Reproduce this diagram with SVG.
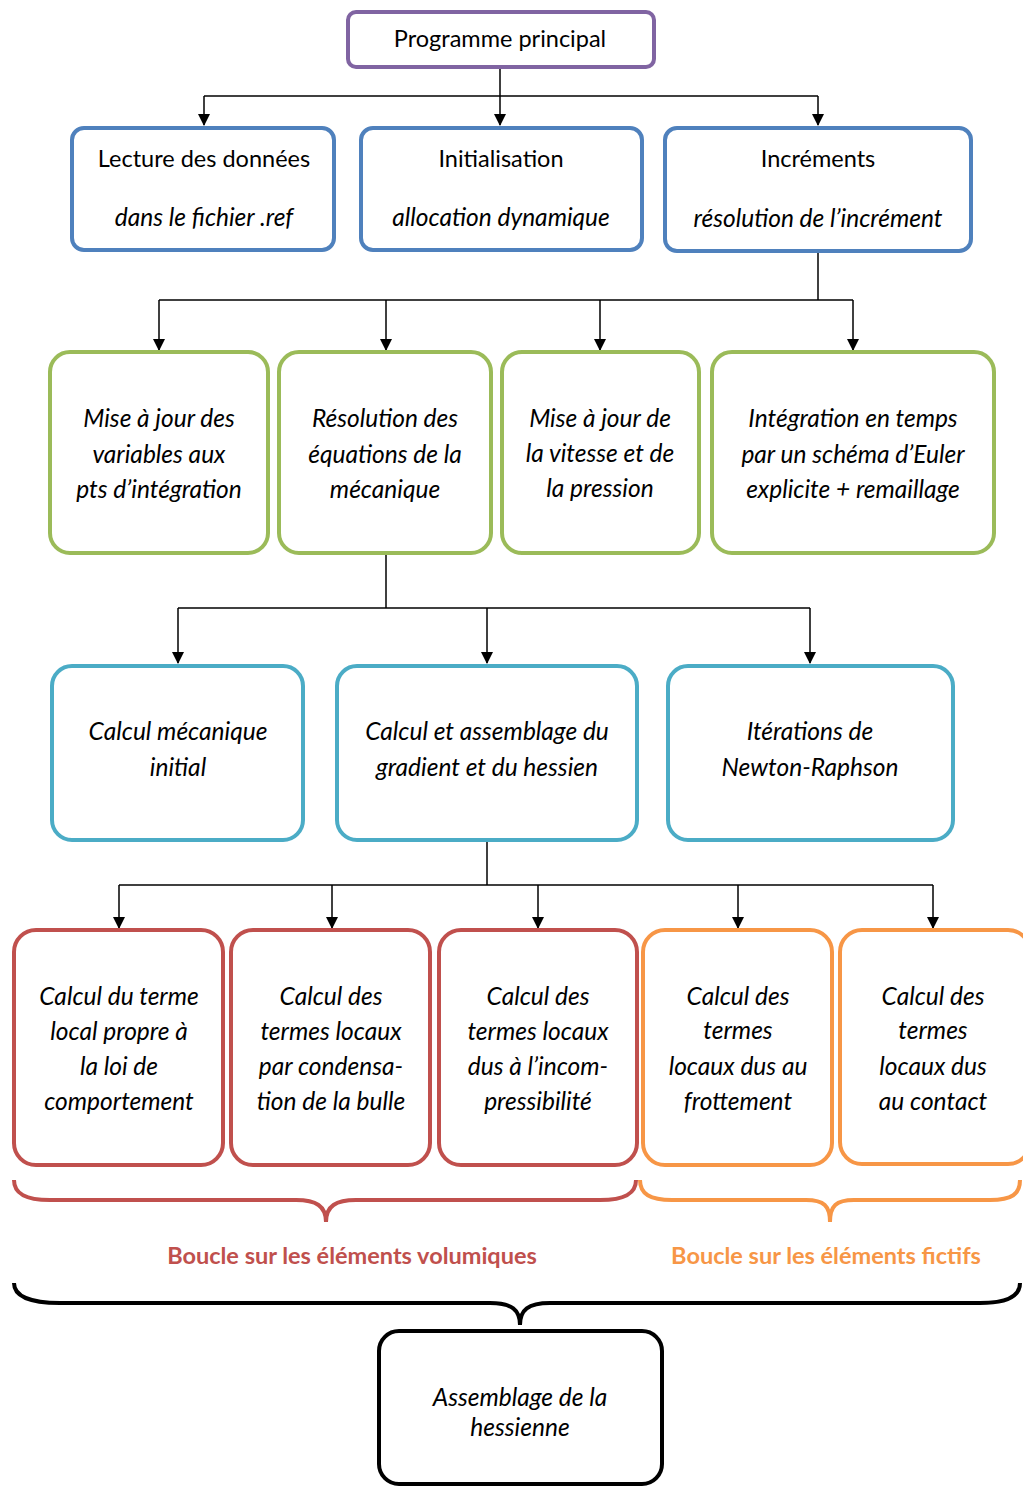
<svg xmlns="http://www.w3.org/2000/svg" width="1023" height="1486" viewBox="0 0 1023 1486">
<defs>
<marker id="arr" markerWidth="12" markerHeight="12" refX="11" refY="6" orient="auto" markerUnits="userSpaceOnUse" viewBox="0 0 12 12">
<path d="M0,0 L12,6 L0,12 Z" fill="#000"/>
</marker>
<style>
.box{fill:#fff;stroke-width:4}
.pur{stroke:#8064A2}
.blu{stroke:#4F81BD}
.grn{stroke:#9BBB59}
.tea{stroke:#4BACC6}
.red{stroke:#C0504D}
.ora{stroke:#F79646}
.blk{stroke:#000}
text{font-family:Lato,"Open Sans","Liberation Sans",sans-serif;font-size:23.5px;fill:#000;text-anchor:middle}
.it{font-style:italic;font-size:24.5px}
.lbl{font-weight:bold;font-size:23.5px}
.con{stroke:#000;stroke-width:1.5;fill:none}
.brace{fill:none;stroke-width:4}
</style>
</defs>
<rect width="1023" height="1486" fill="#fff"/>
<g id="connectors">
<path class="con" d="M500,67 V125" marker-end="url(#arr)"/>
<path class="con" d="M204,96 H818"/>
<path class="con" d="M204,96 V125" marker-end="url(#arr)"/>
<path class="con" d="M818,96 V125" marker-end="url(#arr)"/>
<path class="con" d="M818,252 V300"/>
<path class="con" d="M159,300 H853"/>
<path class="con" d="M159,300 V350" marker-end="url(#arr)"/>
<path class="con" d="M386,300 V350" marker-end="url(#arr)"/>
<path class="con" d="M600,300 V350" marker-end="url(#arr)"/>
<path class="con" d="M853,300 V350" marker-end="url(#arr)"/>
<path class="con" d="M386,553 V608"/>
<path class="con" d="M178,608 H810"/>
<path class="con" d="M178,608 V663" marker-end="url(#arr)"/>
<path class="con" d="M487,608 V663" marker-end="url(#arr)"/>
<path class="con" d="M810,608 V663" marker-end="url(#arr)"/>
<path class="con" d="M487,840 V885"/>
<path class="con" d="M119,885 H933"/>
<path class="con" d="M119,885 V928" marker-end="url(#arr)"/>
<path class="con" d="M332,885 V928" marker-end="url(#arr)"/>
<path class="con" d="M538,885 V928" marker-end="url(#arr)"/>
<path class="con" d="M738,885 V928" marker-end="url(#arr)"/>
<path class="con" d="M933,885 V928" marker-end="url(#arr)"/>
</g>
<g id="n-programme"><rect class="box pur" x="348" y="12" width="306" height="55" rx="8"/><text x="500" y="47">Programme principal</text></g>
<g id="n-lecture"><rect class="box blu" x="72" y="128" width="262" height="122" rx="12"/><text x="204" y="167">Lecture des données</text><text class="it" x="204" y="226">dans le fichier .ref</text></g>
<g id="n-init"><rect class="box blu" x="361" y="128" width="281" height="122" rx="12"/><text x="501" y="167">Initialisation</text><text class="it" x="501" y="226">allocation dynamique</text></g>
<g id="n-incr"><rect class="box blu" x="665" y="128" width="306" height="123" rx="12"/><text x="818" y="167">Incréments</text><text class="it" x="818" y="227">résolution de l’incrément</text></g>
<g id="n-maj-var"><rect class="box grn" x="50" y="352" width="218" height="201" rx="20"/><text class="it" x="159" y="427">Mise à jour des</text><text class="it" x="159" y="463">variables aux</text><text class="it" x="159" y="498">pts d’intégration</text></g>
<g id="n-resol"><rect class="box grn" x="279" y="352" width="212" height="201" rx="20"/><text class="it" x="385" y="427">Résolution des</text><text class="it" x="385" y="463">équations de la</text><text class="it" x="385" y="498">mécanique</text></g>
<g id="n-maj-vit"><rect class="box grn" x="502" y="352" width="197" height="201" rx="20"/><text class="it" x="600" y="427">Mise à jour de</text><text class="it" x="600" y="462">la vitesse et de</text><text class="it" x="600" y="497">la pression</text></g>
<g id="n-integ"><rect class="box grn" x="712" y="352" width="282" height="201" rx="20"/><text class="it" x="853" y="427">Intégration en temps</text><text class="it" x="853" y="463">par un schéma d’Euler</text><text class="it" x="853" y="498">explicite + remaillage</text></g>
<g id="n-calc-init"><rect class="box tea" x="52" y="666" width="251" height="174" rx="20"/><text class="it" x="178" y="740">Calcul mécanique</text><text class="it" x="178" y="776">initial</text></g>
<g id="n-calc-ass"><rect class="box tea" x="337" y="666" width="300" height="174" rx="20"/><text class="it" x="487" y="740">Calcul et assemblage du</text><text class="it" x="487" y="776">gradient et du hessien</text></g>
<g id="n-newton"><rect class="box tea" x="668" y="666" width="285" height="174" rx="20"/><text class="it" x="810" y="740">Itérations de</text><text class="it" x="810" y="776">Newton-Raphson</text></g>
<g id="n-loi"><rect class="box red" x="14" y="930" width="209" height="235" rx="22"/><text class="it" x="119" y="1005">Calcul du terme</text><text class="it" x="119" y="1040">local propre à</text><text class="it" x="119" y="1075">la loi de</text><text class="it" x="119" y="1110">comportement</text></g>
<g id="n-bulle"><rect class="box red" x="231" y="930" width="199" height="235" rx="22"/><text class="it" x="331" y="1005">Calcul des</text><text class="it" x="331" y="1040">termes locaux</text><text class="it" x="331" y="1075">par condensa-</text><text class="it" x="331" y="1110">tion de la bulle</text></g>
<g id="n-incomp"><rect class="box red" x="439" y="930" width="198" height="235" rx="22"/><text class="it" x="538" y="1005">Calcul des</text><text class="it" x="538" y="1040">termes locaux</text><text class="it" x="538" y="1075">dus à l’incom-</text><text class="it" x="538" y="1110">pressibilité</text></g>
<g id="n-frott"><rect class="box ora" x="643" y="930" width="189" height="235" rx="22"/><text class="it" x="738" y="1005">Calcul des</text><text class="it" x="738" y="1039">termes</text><text class="it" x="738" y="1075">locaux dus au</text><text class="it" x="738" y="1110">frottement</text></g>
<g id="n-contact"><rect class="box ora" x="840" y="930" width="190" height="234" rx="22"/><text class="it" x="933" y="1005">Calcul des</text><text class="it" x="933" y="1039">termes</text><text class="it" x="933" y="1075">locaux dus</text><text class="it" x="933" y="1110">au contact</text></g>
<g id="braces">
<path class="brace red" d="M14,1180 C14,1194 26,1200 50,1200 L296,1200 C316,1200 326,1206 326,1222 C326,1206 336,1200 356,1200 L600,1200 C624,1200 636,1194 636,1180"/>
<path class="brace ora" d="M640,1180 C640,1194 650,1200 672,1200 L806,1200 C824,1200 830,1206 830,1222 C830,1206 836,1200 854,1200 L990,1200 C1012,1200 1020,1194 1020,1180"/>
<path class="brace blk" d="M14,1283 C14,1296 30,1303 60,1303 L490,1303 C512,1303 520,1310 520,1325 C520,1310 528,1303 550,1303 L980,1303 C1008,1303 1020,1296 1020,1283" stroke-width="3"/>
</g>
<text class="lbl" x="352" y="1264" style="fill:#C0504D">Boucle sur les éléments volumiques</text>
<text class="lbl" x="826" y="1264" style="fill:#F79646">Boucle sur les éléments fictifs</text>
<g id="n-assemblage"><rect class="box blk" x="379" y="1331" width="283" height="153" rx="20"/><text class="it" x="520" y="1406">Assemblage de la</text><text class="it" x="520" y="1436">hessienne</text></g>
</svg>
